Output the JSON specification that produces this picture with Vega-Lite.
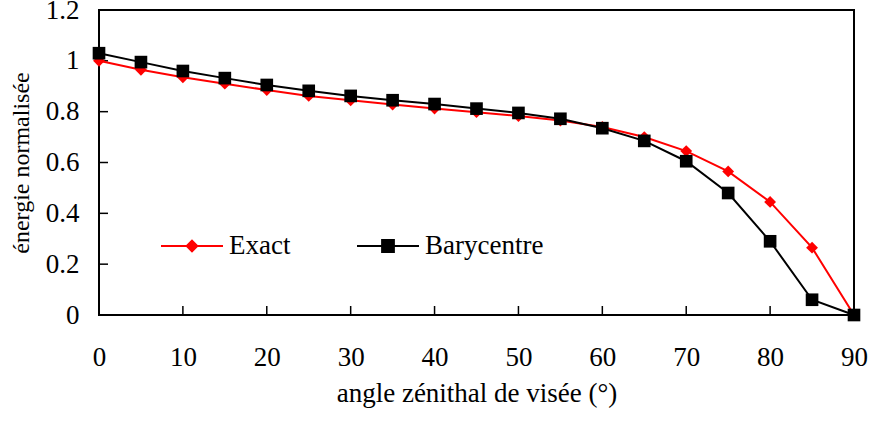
{
  "$schema": "https://vega.github.io/schema/vega-lite/v6.json",
  "width": 755,
  "height": 305,
  "autosize": {"type": "none"},
  "padding": {"left": 99, "top": 10, "right": 17, "bottom": 108},
  "background": "white",
  "config": {
    "view": {"stroke": "black", "strokeWidth": 2},
    "font": "Liberation Serif",
    "axis": {
      "grid": false, "domain": false, "ticks": false, "labelFlush": false, "labelFont": "Liberation Serif", "labelFontSize": 27,
      "labelColor": "black", "titleFont": "Liberation Serif", "titleFontSize": 27,
      "titleFontWeight": "normal", "titleColor": "black"
    }
  },
  "datasets": {
    "curves": [
      {"angle": 0, "series": "Exact", "value": 1.0},
      {"angle": 5, "series": "Exact", "value": 0.965},
      {"angle": 10, "series": "Exact", "value": 0.935},
      {"angle": 15, "series": "Exact", "value": 0.91},
      {"angle": 20, "series": "Exact", "value": 0.885},
      {"angle": 25, "series": "Exact", "value": 0.862},
      {"angle": 30, "series": "Exact", "value": 0.845},
      {"angle": 35, "series": "Exact", "value": 0.828},
      {"angle": 40, "series": "Exact", "value": 0.812},
      {"angle": 45, "series": "Exact", "value": 0.798},
      {"angle": 50, "series": "Exact", "value": 0.783},
      {"angle": 55, "series": "Exact", "value": 0.765},
      {"angle": 60, "series": "Exact", "value": 0.74},
      {"angle": 65, "series": "Exact", "value": 0.70},
      {"angle": 70, "series": "Exact", "value": 0.645},
      {"angle": 75, "series": "Exact", "value": 0.565},
      {"angle": 80, "series": "Exact", "value": 0.445},
      {"angle": 85, "series": "Exact", "value": 0.265},
      {"angle": 90, "series": "Exact", "value": 0.0},
      {"angle": 0, "series": "Barycentre", "value": 1.03},
      {"angle": 5, "series": "Barycentre", "value": 0.995},
      {"angle": 10, "series": "Barycentre", "value": 0.96},
      {"angle": 15, "series": "Barycentre", "value": 0.932},
      {"angle": 20, "series": "Barycentre", "value": 0.905},
      {"angle": 25, "series": "Barycentre", "value": 0.882},
      {"angle": 30, "series": "Barycentre", "value": 0.862},
      {"angle": 35, "series": "Barycentre", "value": 0.845},
      {"angle": 40, "series": "Barycentre", "value": 0.83},
      {"angle": 45, "series": "Barycentre", "value": 0.812},
      {"angle": 50, "series": "Barycentre", "value": 0.795},
      {"angle": 55, "series": "Barycentre", "value": 0.772},
      {"angle": 60, "series": "Barycentre", "value": 0.735},
      {"angle": 65, "series": "Barycentre", "value": 0.685},
      {"angle": 70, "series": "Barycentre", "value": 0.605},
      {"angle": 75, "series": "Barycentre", "value": 0.48},
      {"angle": 80, "series": "Barycentre", "value": 0.29},
      {"angle": 85, "series": "Barycentre", "value": 0.06},
      {"angle": 90, "series": "Barycentre", "value": 0.0}
    ],
    "xticks": [
      {"angle": 10}, {"angle": 20}, {"angle": 30}, {"angle": 40}, {"angle": 50},
      {"angle": 60}, {"angle": 70}, {"angle": 80}
    ],
    "yticks": [
      {"value": 0.2}, {"value": 0.4}, {"value": 0.6}, {"value": 0.8}, {"value": 1.0}
    ]
  },
  "layer": [
    {
      "data": {"name": "xticks"},
      "mark": {"type": "tick", "orient": "vertical", "size": 18, "thickness": 1.5, "color": "black", "opacity": 1, "clip": true},
      "encoding": {
        "x": {"field": "angle", "type": "quantitative"},
        "y": {"datum": 0}
      }
    },
    {
      "data": {"name": "yticks"},
      "mark": {"type": "tick", "orient": "horizontal", "size": 18, "thickness": 1.5, "color": "black", "opacity": 1, "clip": true},
      "encoding": {
        "x": {"datum": 0},
        "y": {"field": "value", "type": "quantitative"}
      }
    },
    {
      "data": {"name": "curves"},
      "encoding": {
        "x": {
          "field": "angle", "type": "quantitative",
          "scale": {"domain": [0, 90], "nice": false, "zero": false},
          "axis": {"values": [0, 10, 20, 30, 40, 50, 60, 70, 80, 90], "labelPadding": 29, "title": "angle zénithal de visée (°)", "titlePadding": 10}
        },
        "y": {
          "field": "value", "type": "quantitative",
          "scale": {"domain": [0, 1.2], "nice": false},
          "axis": {"values": [0, 0.2, 0.4, 0.6, 0.8, 1, 1.2], "format": "~g", "labelPadding": 20, "title": "énergie normalisée", "titleFontSize": 24, "titlePadding": 12}
        },
        "color": {
          "field": "series", "type": "nominal",
          "scale": {"domain": ["Exact", "Barycentre"], "range": ["#ff0000", "#000000"]},
          "legend": {
            "title": null, "orient": "none", "legendX": 61, "legendY": 204, "direction": "horizontal",
            "symbolSize": 3844, "labelFontSize": 27, "labelFont": "Liberation Serif", "labelColor": "black",
            "labelOffset": 5, "columnPadding": 62, "padding": 0,
            "encode": {
              "symbols": {
                "update": {
                  "shape": {"signal": "datum.value === 'Exact' ? 'M-1,0H1M0,-0.17L0.17,0L0,0.17L-0.17,0Z' : 'M-1,0H1M-0.19,-0.19H0.19V0.19H-0.19Z'"},
                  "fill": {"signal": "datum.value === 'Exact' ? '#ff0000' : '#000000'"},
                  "stroke": {"signal": "datum.value === 'Exact' ? '#ff0000' : '#000000'"},
                  "strokeWidth": {"value": 2},
                  "opacity": {"value": 1},
                  "fillOpacity": {"value": 1}
                }
              }
            }
          }
        }
      },
      "layer": [
        {"mark": {"type": "line", "strokeWidth": 2}},
        {
          "transform": [{"filter": "datum.series === 'Exact'"}],
          "mark": {"type": "point", "filled": true, "opacity": 1, "shape": "diamond", "size": 140}
        },
        {
          "transform": [{"filter": "datum.series === 'Barycentre'"}],
          "mark": {"type": "point", "filled": true, "opacity": 1, "shape": "square", "size": 160}
        }
      ]
    }
  ]
}
